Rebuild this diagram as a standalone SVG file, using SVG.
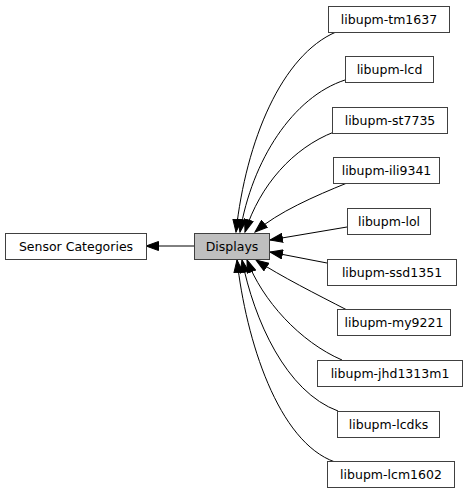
<svg xmlns="http://www.w3.org/2000/svg" width="467" height="493" viewBox="0 0 467 493">
<style>
.box{fill:#ffffff;stroke:#404040;stroke-width:1}
.cur{fill:#bfbfbf;stroke:#404040;stroke-width:1}
text{font-family:"DejaVu Sans","Liberation Sans",sans-serif;font-size:12.5px;fill:#000;text-anchor:middle}
.e{fill:none;stroke:#000;stroke-width:1;marker-end:url(#ah)}
</style>
<defs>
<marker id="ah" markerUnits="userSpaceOnUse" markerWidth="14" markerHeight="10" viewBox="0 0 14 10" refX="13" refY="5" orient="auto">
<path d="M0.5,0.5 L13,5 L0.5,9.5 Z" fill="#000" stroke="#000" stroke-width="1"/>
</marker>
</defs>
<rect width="467" height="493" fill="#ffffff"/>
<g id="connectors">
<path class="e" d="M194,246 L146,246"/>
<path class="e" d="M336,32 C282,55 246,140 236,232"/>
<path class="e" d="M345,80 C293,97 252,160 240,232"/>
<path class="e" d="M334,132 C293,148 260,185 245,232"/>
<path class="e" d="M347,183 C315,196 278,212 255,232"/>
<path class="e" d="M347,227 L270,240"/>
<path class="e" d="M327,263 L270,252"/>
<path class="e" d="M347,310 C318,295 280,276 256,260"/>
<path class="e" d="M342,360 C300,342 262,300 247,260"/>
<path class="e" d="M338,411 C286,392 254,320 242,260"/>
<path class="e" d="M335,462 C278,442 246,340 237,260"/>
</g>
<g id="node-sensor-categories"><rect class="box" x="5.5" y="233.5" width="141" height="26"/><text x="76" y="251">Sensor Categories</text></g>
<g id="node-displays"><rect class="cur" x="194.5" y="233.5" width="75" height="26"/><text x="232" y="251">Displays</text></g>
<g id="node-tm1637"><rect class="box" x="328.5" y="6.5" width="121" height="26"/><text x="389" y="24">libupm-tm1637</text></g>
<g id="node-lcd"><rect class="box" x="345.5" y="56.5" width="88" height="26"/><text x="389.5" y="74">libupm-lcd</text></g>
<g id="node-st7735"><rect class="box" x="332.5" y="107.5" width="115" height="26"/><text x="390" y="125">libupm-st7735</text></g>
<g id="node-ili9341"><rect class="box" x="333.5" y="157.5" width="106" height="26"/><text x="386.5" y="175">libupm-ili9341</text></g>
<g id="node-lol"><rect class="box" x="347.5" y="208.5" width="83" height="26"/><text x="389" y="226">libupm-lol</text></g>
<g id="node-ssd1351"><rect class="box" x="327.5" y="259.5" width="129" height="26"/><text x="392" y="277">libupm-ssd1351</text></g>
<g id="node-my9221"><rect class="box" x="337.5" y="309.5" width="113" height="26"/><text x="394" y="327">libupm-my9221</text></g>
<g id="node-jhd1313m1"><rect class="box" x="317.5" y="360.5" width="145" height="26"/><text x="390" y="378">libupm-jhd1313m1</text></g>
<g id="node-lcdks"><rect class="box" x="337.5" y="411.5" width="102" height="26"/><text x="388.5" y="429">libupm-lcdks</text></g>
<g id="node-lcm1602"><rect class="box" x="327.5" y="461.5" width="127" height="26"/><text x="391" y="479">libupm-lcm1602</text></g>
</svg>
